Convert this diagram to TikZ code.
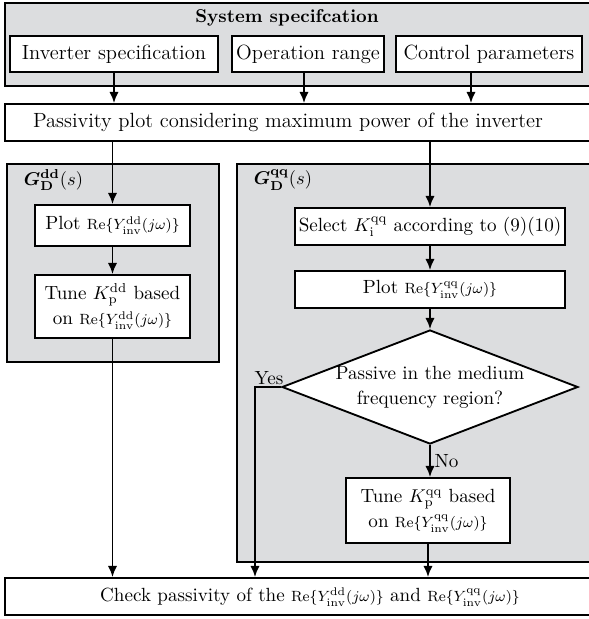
\documentclass[tikz,border=0pt]{standalone}
\usepackage{amsmath,bm}
\usetikzlibrary{arrows.meta,shapes.geometric}
\newcommand{\pxu}{0.54pt}
\newcommand{\ReY}[1]{{\fontsize{8.4}{10}\selectfont$\mathrm{Re}\{Y_{\mathrm{inv}}^{\mathrm{#1}}(j\omega)\}$}}
\definecolor{panelgray}{RGB}{220,221,223}
\begin{document}
\begin{tikzpicture}[x=\pxu,y=-\pxu,line width=1pt,
	every node/.style={font=\fontsize{10.3}{13.6}\selectfont},
	bigtext/.style={font=\fontsize{11.1}{13.6}\selectfont},
	panel/.style={draw,fill=panelgray,inner sep=0pt},
	stepbox/.style={draw,fill=white,align=center,inner sep=0pt},
	flow/.style={-{Latex[length=6pt,width=5pt]}}]
	\useasboundingbox (0,0) rectangle (589,619);
	\clip (0,0) rectangle (589,619);
	% system specification
	\node[panel,minimum width=595*\pxu,minimum height=83*\pxu] (sys) at (302.5,44.5) {};
	\node[font=\fontsize{10}{12}\selectfont] (systitle) at (287,18) {\textbf{System specifcation}};
	\node[stepbox,bigtext,minimum width=208*\pxu,minimum height=36*\pxu] (inv) at (114,54) {Inverter specification};
	\node[stepbox,bigtext,minimum width=152*\pxu,minimum height=36*\pxu] (oper) at (308,54) {Operation range};
	\node[stepbox,bigtext,minimum width=186*\pxu,minimum height=36*\pxu] (ctrl) at (489,54) {Control parameters};
	% passivity plot
	\node[stepbox,minimum width=595*\pxu,minimum height=37*\pxu] (pass) at (302.5,122.5) {};
	\node[bigtext] (passtext) at (288,122) {Passivity plot considering maximum power of the inverter};
	\draw[flow] (inv) -- (inv |- pass.north);
	\draw[flow] ([xshift=-4*\pxu]oper.south) -- ([xshift=-4*\pxu]oper.south |- pass.north);
	\draw[flow] ([xshift=-18*\pxu]ctrl.south) -- ([xshift=-18*\pxu]ctrl.south |- pass.north);
	% d axis
	\node[panel,minimum width=212*\pxu,minimum height=198*\pxu] (gdd) at (113,263) {};
	\node[anchor=west,inner sep=0pt] (gddlabel) at (23,180) {$\bm{G}^{\mathbf{dd}}_{\mathbf{D}}(s)$};
	\node[stepbox,minimum width=155*\pxu,minimum height=41*\pxu] (plotdd) at (112.5,225.5) {Plot \ReY{dd}};
	\node[stepbox,minimum width=155*\pxu,minimum height=63*\pxu] (tunedd) at (112.5,306.5) {Tune $K_{\mathrm{p}}^{\mathrm{dd}}$ based\\on \ReY{dd}};
	% q axis
	\node[panel,minimum width=363*\pxu,minimum height=398*\pxu] (gqq) at (418.5,363) {};
	\node[anchor=west,inner sep=0pt] (gqqlabel) at (253,180) {$\bm{G}^{\mathbf{qq}}_{\mathbf{D}}(s)$};
	\node[stepbox,minimum width=270*\pxu,minimum height=37*\pxu] (sel) at (430,226.5) {Select $K_{\mathrm{i}}^{\mathrm{qq}}$ according to (9)(10)};
	\node[stepbox,minimum width=270*\pxu,minimum height=37*\pxu] (plotqq) at (430,289.5) {Plot \ReY{qq}};
	\node[diamond,draw,fill=white,align=center,inner sep=-3pt,aspect=2.6,
		minimum width=296*\pxu,minimum height=114*\pxu] (dec) at (430,387) {Passive in the medium\\frequency region?};
	\node[stepbox,minimum width=164*\pxu,minimum height=65*\pxu] (tuneqq) at (428,510.5) {Tune $K_{\mathrm{p}}^{\mathrm{qq}}$ based\\on \ReY{qq}};
	% check
	\node[stepbox,minimum width=595*\pxu,minimum height=37*\pxu] (check) at (302.5,596.5) {};
	\node (checktext) at (310,597) {Check passivity of the \ReY{dd} and \ReY{qq}};
	\coordinate (yesbend) at (255,387);
	\draw[flow] (pass.south -| plotdd) -- (plotdd);
	\draw[flow] (plotdd) -- (tunedd);
	\draw[flow] (tunedd) -- (tunedd |- check.north);
	\draw[flow] (pass.south -| sel) -- (sel);
	\draw[flow] (sel) -- (plotqq);
	\draw[flow] (plotqq) -- (dec);
	\draw[flow] (dec.south) -- (dec.south |- tuneqq.north) node[pos=0.5,right,inner sep=2pt] (no) {No};
	\draw[flow] (dec.west) -- (yesbend) -- (yesbend |- check.north);
	\node (yes) at (269,378) {Yes};
	\draw[flow] (tuneqq) -- (tuneqq |- check.north);
\end{tikzpicture}
\end{document}
